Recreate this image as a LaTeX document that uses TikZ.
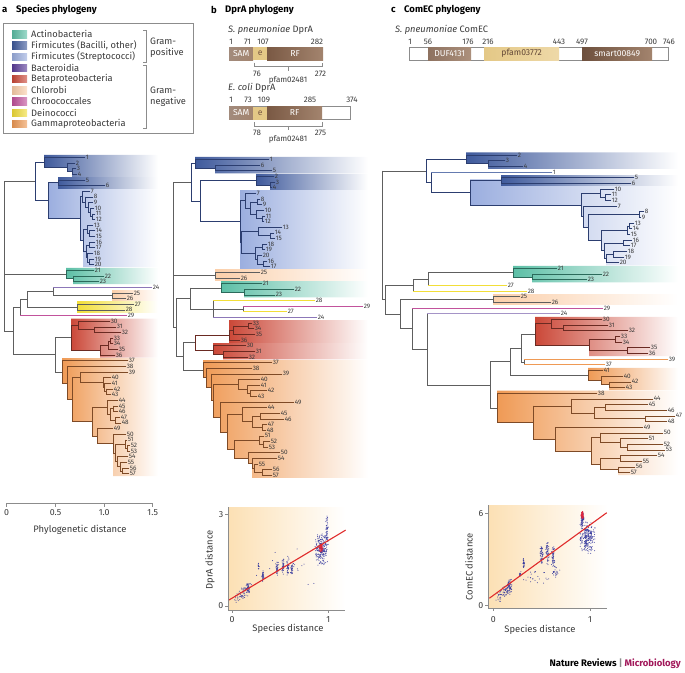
\documentclass[tikz,border=0pt]{standalone}
\usepackage{fontspec}
\setmainfont{Fira Sans}
\definecolor{cActino}{HTML}{5CBFA6}
\definecolor{cBac}{HTML}{3F5A9C}
\definecolor{cStrep}{HTML}{9BAEDF}
\definecolor{cBact}{HTML}{5B3D9A}
\definecolor{cBeta}{HTML}{CB4838}
\definecolor{cChlo}{HTML}{FBCFAA}
\definecolor{cChroo}{HTML}{C2529C}
\definecolor{cDein}{HTML}{F2DE38}
\definecolor{cGamma}{HTML}{EF9A55}
\definecolor{bGrey}{HTML}{5E5E5E}
\definecolor{bBlue}{HTML}{2C3E70}
\definecolor{bTeal}{HTML}{2B6A5B}
\definecolor{bRed}{HTML}{6A2A22}
\definecolor{bOrange}{HTML}{7E4A26}
\definecolor{txtc}{HTML}{3A3A3A}
\definecolor{axc}{HTML}{8C8C8C}
\definecolor{brA}{HTML}{7A5944}
\definecolor{brB}{HTML}{A3846E}
\definecolor{tanA}{HTML}{E4C886}
\definecolor{tanB}{HTML}{EED9A8}
\definecolor{bgP}{HTML}{FCE0B4}
\definecolor{dotb}{HTML}{3A3DA0}
\definecolor{dotr}{HTML}{E0243A}
\definecolor{redl}{HTML}{E02B2B}
\definecolor{natmag}{HTML}{A1185A}
\colorlet{bc}{bGrey}
\tikzset{
  brl/.style={draw=bc, line width=0.6pt, line cap=rect},
  lab/.style={anchor=west, inner sep=0.5pt, font=\fontsize{6.4}{6.4}\selectfont, text=txtc},
  ttl/.style={anchor=west, inner sep=0pt, font=\fontsize{9.5}{10}\selectfont\bfseries, text=black},
  leg/.style={anchor=west, inner sep=0pt, font=\fontsize{9.3}{10.6}\selectfont, text=txtc},
  num/.style={inner sep=0pt, font=\fontsize{8}{8}\selectfont, text=txtc},
  dtxt/.style={anchor=west, inner sep=0pt, font=\fontsize{9.3}{10}\selectfont, text=txtc},
  dombar/.style={anchor=west, minimum height=13pt, inner sep=0pt, text=white, font=\fontsize{8.6}{8.6}\selectfont},
  brk/.style={draw=axc, line width=0.5pt},
  axl/.style={draw=axc, line width=0.6pt},
  tick/.style={inner sep=0pt, font=\fontsize{8.8}{9}\selectfont, text=txtc},
  axtitle/.style={inner sep=0pt, font=\fontsize{9.4}{10}\selectfont, text=txtc},
  redline/.style={draw=redl, line width=1.1pt}
}
\newcommand\brV[3]{\draw[brl] (#1,#2) -- (#1,#3);}
\newcommand\brH[3]{\draw[brl] (#1,#3) -- (#2,#3);}
\newcommand\brL[4]{\draw[brl] (#1,#3) -- (#2,#3) node[lab] (\tp#4) {#4};}
\newcommand\brLc[5]{\draw[brl,draw=#1] (#2,#4) -- (#3,#4) node[lab] (\tp#5) {#5};}
\newcommand\cloud[7]{%
  \foreach \i in {1,...,#1}{%
    \pgfmathsetmacro\px{#2+#3*(rand+rand)/2}%
    \pgfmathsetmacro\py{#4+#6*(\px-#2)+#5*(rand+rand)/2}%
    \fill[#7] (\px,\py) circle (0.5pt);
  }}
\begin{document}
\begin{tikzpicture}[x=1pt,y=-1pt]
\useasboundingbox (0,0) rectangle (685,672);
\pgfmathsetseed{11}

% ---------------- titles
\node[ttl] (ta) at (2,10) {a};
\node[ttl] (tat) at (16,10) {Species phylogeny};
\node[ttl] (tb) at (211,10) {b};
\node[ttl] (tbt) at (225,10) {DprA phylogeny};
\node[ttl] (tc) at (391,10) {c};
\node[ttl] (tct) at (404,10) {ComEC phylogeny};

% ---------------- legend
\draw[draw=axc, line width=0.6pt] (3,23) rectangle (193,133);
\foreach \c/\t [count=\i] in {cActino/Actinobacteria, cBac/{Firmicutes (Bacilli, other)}, cStrep/{Firmicutes (Streptococci)}, cBact/Bacteroidia, cBeta/Betaproteobacteria, cChlo/Chlorobi, cChroo/Chroococcales, cDein/Deinococci, cGamma/Gammaproteobacteria}{
  \pgfmathsetmacro\yy{34.3+(\i-1)*11.2}
  \shade[left color=\c!90!black, right color=\c!60!white] (12,\yy-3.7) rectangle (27,\yy+3.7);
  \node[leg] (leg\i) at (31,\yy) {\t};
}
\draw[brk] (143,30) -- (146,30) -- (146,62) -- (143,62);
\draw[brk] (143,65) -- (146,65) -- (146,128) -- (143,128);
\node[leg, align=left] (gpos) at (150,48) {Gram-\\positive};
\node[leg, align=left] (gneg) at (150,96.5) {Gram-\\negative};

% ---------------- DprA domains
\node[dtxt] (spd) at (228,30) {\textit{S. pneumoniae} DprA};
\node[num] (n1a) at (231,42) {1};
\node[num] (n71) at (247.5,42) {71};
\node[num] (n107) at (263,42) {107};
\node[num] (n282) at (317,42) {282};
\node[dombar, minimum width=24pt, left color=brA!70!white, right color=brB] (spSAM) at (229,53.5) {SAM};
\node[dombar, minimum width=14pt, fill=tanA, text=brA] (spE) at (253,53.5) {e};
\node[dombar, minimum width=56pt, left color=brA, right color=brB] (spRF) at (267,53.5) {RF};
\draw[brk] (254,62.7) -- (254,66.5) -- (322,66.5) -- (322,62.7);
\draw[brk] (288,66.5) -- (288,71);
\node[num] (n76) at (257,73.5) {76};
\node[num] (n272) at (320.5,73.5) {272};
\node[num] (pf1) at (288,80.5) {pfam02481};

\node[dtxt] (ecd) at (228,88.3) {\textit{E. coli} DprA};
\node[num] (m1) at (231,100) {1};
\node[num] (m73) at (248,100) {73};
\node[num] (m109) at (264,100) {109};
\node[num] (m285) at (310,100) {285};
\node[num] (m374) at (352,100) {374};
\node[dombar, minimum width=121pt, draw=axc, line width=0.5pt, fill=white] (ecAll) at (229,113) {};
\node[dombar, minimum width=24pt, left color=brA!70!white, right color=brB] (ecSAM) at (229,113) {SAM};
\node[dombar, minimum width=14pt, fill=tanA, text=brA] (ecE) at (253,113) {e};
\node[dombar, minimum width=55pt, left color=brA, right color=brB] (ecRF) at (267,113) {RF};
\draw[brk] (254,122) -- (254,125.8) -- (322,125.8) -- (322,122);
\draw[brk] (288,125.8) -- (288,130.3);
\node[num] (m78) at (257,132.5) {78};
\node[num] (m275) at (320.5,132.5) {275};
\node[num] (pf2) at (288,139.5) {pfam02481};

% ---------------- ComEC domains
\node[dtxt] (spc) at (395,30) {\textit{S. pneumoniae} ComEC};
\foreach \v/\xx in {1/410,56/428,176/468,216/488,443/559,497/582,700/651,746/669}{
  \node[num] (k\v) at (\xx,42) {\v};
}
\node[dombar, minimum width=259pt, draw=axc, line width=0.5pt, fill=white] (ceAll) at (409,53.5) {};
\node[dombar, minimum width=43pt, left color=brA!85!white, right color=brB!90!white] (ceDUF) at (428,53.5) {DUF4131};
\node[dombar, minimum width=75pt, left color=tanA, right color=tanB, text=brA!80!black] (cePF) at (484,53.5) {pfam03772};
\node[dombar, minimum width=70pt, left color=brA!90!black, right color=brB] (ceSM) at (582,53.5) {smart00849};

% ================= TREE A
\begin{scope}[yshift=-151.65pt, y=-5.65pt]
\def\tp{a}
\shade[left color=cStrep, right color=white] (48,5.5) -- (158,5.5) -- (158,20.45) -- (83,20.45) -- (83,15.69) -- (80,15.69) -- (80,11.83) -- (48,11.83) -- cycle;
\shade[left color=cBac, right color=white] (44,0.55) -- (158,0.55) -- (158,4.45) -- (72,4.45) -- (72,3.5) -- (67,3.5) -- (67,2.75) -- (44,2.75) -- cycle;
\shade[left color=cBac, right color=white] (58,4.55) rectangle (158,6.45);
\shade[left color=cActino, right color=white] (66,20.55) -- (158,20.55) -- (158,23.45) -- (73,23.45) -- (73,22.5) -- (66,22.5) -- cycle;
\shade[left color=cChlo, right color=white] (112,24.6) rectangle (158,26.4);
\shade[left color=cDein, right color=white] (77,26.6) rectangle (158,28.4);
\shade[left color=cBeta, right color=white] (71,29.55) -- (158,29.55) -- (158,36.45) -- (100,36.45) -- (100,35.125) -- (71,35.125) -- cycle;
\shade[left color=cGamma, right color=white] (62,36.55) -- (158,36.55) -- (158,57.45) -- (113,57.45) -- (113,51.66) -- (97,51.66) -- (97,50.33) -- (92,50.33) -- (92,47.79) -- (72,47.79) -- (72,43.87) -- (67,43.87) -- (67,40.93) -- (62,40.93) -- cycle;
% basal
\brV{4}{5.27}{31.76}
\brH{4}{35}{5.27}
\brH{4}{66}{21.75}
\brH{4}{13}{31.76}
\brV{13}{27.56}{35.95}
\brH{13}{20}{27.56}
\brH{13}{55}{35.95}
\brV{20}{26.125}{29}
\brH{20}{27}{26.125}
\brLc{cChroo}{20}{127}{29}{29}
\brV{27}{24.75}{27.5}
\brH{27}{53}{24.75}
\brH{27}{77}{27.5}
\brV{53}{24}{25.5}
\brLc{cBact!70!white}{53}{152}{24}{24}
\brH{53}{112}{25.5}
\brV{112}{25}{26}
\brL{112}{133}{25}{25}
\brL{112}{126}{26}{26}
\brV{77}{27}{28}
\brL{77}{134}{27}{27}
\brL{77}{125}{28}{28}
\brV{55}{32.94}{38.97}
\brH{55}{71}{32.94}
\brH{55}{62}{38.97}
\begin{scope}\colorlet{bc}{bBlue}
\brV{35}{1.875}{8.66}
\brH{35}{44}{1.875}
\brH{35}{48}{8.66}
\brV{44}{1}{2.75}
\brL{44}{85}{1}{1}
\brH{44}{67}{2.75}
\brV{67}{2}{3.5}
\brL{67}{75}{2}{2}
\brH{67}{72}{3.5}
\brV{72}{3}{4}
\brL{72}{76}{3}{3}
\brL{72}{77}{4}{4}
\brV{48}{5.5}{11.83}
\brH{48}{58}{5.5}
\brH{48}{80}{11.83}
\brV{58}{5}{6}
\brL{58}{85}{5}{5}
\brL{58}{105}{6}{6}
\brV{80}{7.97}{15.69}
\brH{80}{82}{7.97}
\brH{80}{83}{15.69}
\brV{82}{7}{8.94}
\brL{82}{90}{7}{7}
\brH{82}{85}{8.94}
\brV{85}{8}{9.875}
\brL{85}{93}{8}{8}
\brH{85}{88}{9.875}
\brV{88}{9}{10.75}
\brL{88}{93}{9}{9}
\brH{88}{90}{10.75}
\brV{90}{10}{11.5}
\brL{90}{94}{10}{10}
\brH{90}{92}{11.5}
\brV{92}{11}{12}
\brL{92}{95}{11}{11}
\brL{92}{95}{12}{12}
\brV{83}{13.75}{17.625}
\brH{83}{87}{13.75}
\brH{83}{86}{17.625}
\brV{87}{13}{14.5}
\brL{87}{93}{13}{13}
\brH{87}{89}{14.5}
\brV{89}{14}{15}
\brL{89}{95}{14}{14}
\brL{89}{95}{15}{15}
\brV{86}{16.5}{18.75}
\brH{86}{89}{16.5}
\brH{86}{87}{18.75}
\brV{89}{16}{17}
\brL{89}{95}{16}{16}
\brL{89}{95}{17}{17}
\brV{87}{18}{19.5}
\brL{87}{93}{18}{18}
\brH{87}{89}{19.5}
\brV{89}{19}{20}
\brL{89}{94}{19}{19}
\brL{89}{94}{20}{20}
\end{scope}
\begin{scope}\colorlet{bc}{bTeal}
\brV{66}{21}{22.5}
\brL{66}{94}{21}{21}
\brH{66}{73}{22.5}
\brV{73}{22}{23}
\brL{73}{104}{22}{22}
\brL{73}{99}{23}{23}
\end{scope}
\begin{scope}\colorlet{bc}{bRed}
\brV{71}{30.75}{35.125}
\brH{71}{78}{30.75}
\brH{71}{100}{35.125}
\brV{78}{30}{31.5}
\brL{78}{110}{30}{30}
\brH{78}{94}{31.5}
\brV{94}{31}{32}
\brL{94}{116}{31}{31}
\brL{94}{121}{32}{32}
\brV{100}{34.25}{36}
\brH{100}{108}{34.25}
\brL{100}{115}{36}{36}
\brV{108}{33.5}{35}
\brH{108}{110}{33.5}
\brL{108}{118}{35}{35}
\brV{110}{33}{34}
\brL{110}{113}{33}{33}
\brL{110}{113}{34}{34}
\end{scope}
\begin{scope}\colorlet{bc}{bOrange}
\brV{62}{37}{40.93}
\brL{62}{128}{37}{37}
\brH{62}{67}{40.93}
\brV{67}{38}{43.87}
\brL{67}{126}{38}{38}
\brH{67}{72}{43.87}
\brV{72}{39.94}{47.79}
\brH{72}{80}{39.94}
\brH{72}{92}{47.79}
\brV{80}{39}{40.875}
\brL{80}{128}{39}{39}
\brH{80}{103}{40.875}
\brV{103}{40}{41.75}
\brL{103}{111}{40}{40}
\brH{103}{104}{41.75}
\brV{104}{41}{42.5}
\brL{104}{111}{41}{41}
\brH{104}{106}{42.5}
\brV{106}{42}{43}
\brL{106}{113}{42}{42}
\brL{106}{111}{43}{43}
\brV{92}{45.25}{50.33}
\brH{92}{107}{45.25}
\brH{92}{97}{50.33}
\brV{107}{44}{46.5}
\brL{107}{118}{44}{44}
\brH{107}{110}{46.5}
\brV{110}{45.5}{47.5}
\brH{110}{113}{45.5}
\brH{110}{115}{47.5}
\brV{113}{45}{46}
\brL{113}{118}{45}{45}
\brL{113}{118}{46}{46}
\brV{115}{47}{48}
\brL{115}{120}{47}{47}
\brL{115}{121}{48}{48}
\brV{97}{49}{51.66}
\brL{97}{113}{49}{49}
\brH{97}{113}{51.66}
\brV{113}{50}{53.31}
\brL{113}{126}{50}{50}
\brH{113}{115}{53.31}
\brV{115}{51.75}{54.875}
\brH{115}{125}{51.75}
\brH{115}{117}{54.875}
\brV{125}{51}{52.5}
\brL{125}{127}{51}{51}
\brH{125}{127}{52.5}
\brV{127}{52}{53}
\brL{127}{130}{52}{52}
\brL{127}{130}{53}{53}
\brV{117}{54}{55.75}
\brL{117}{128}{54}{54}
\brH{117}{120}{55.75}
\brV{120}{55}{56.5}
\brL{120}{127}{55}{55}
\brH{120}{122}{56.5}
\brV{122}{56}{57}
\brL{122}{129}{56}{56}
\brL{122}{129}{57}{57}
\end{scope}
\end{scope}

% scale bar tree a
\draw[axl] (6.7,506.5) -- (6.7,503.3) -- (152.7,503.3) -- (152.7,506.5);
\draw[axl] (55.5,503.3) -- (55.5,506.5);
\draw[axl] (104.2,503.3) -- (104.2,506.5);
\node[tick] (s0) at (6.7,513) {0};
\node[tick] (s05) at (55.5,513) {0.5};
\node[tick] (s10) at (104.2,513) {1.0};
\node[tick] (s15) at (152.7,513) {1.5};
\node[axtitle] (phyl) at (80,529.5) {Phylogenetic distance};

% ================= TREE B
\begin{scope}[yshift=-153.86pt, y=-5.64pt]
\def\tp{b}
\shade[left color=cBac, right color=white] (195,0.55) -- (368,0.55) -- (368,3.45) -- (215,3.45) -- (215,2.5) -- (195,2.5) -- cycle;
\shade[left color=cBac, right color=white] (256,3.55) -- (368,3.55) -- (368,6.45) -- (270,6.45) -- (270,5.5) -- (256,5.5) -- cycle;
\shade[left color=cStrep, right color=white] (240,6.55) rectangle (368,20.45);
\shade[left color=cChlo, right color=white] (215,20.55) rectangle (368,22.45);
\shade[left color=cActino, right color=white] (221,22.55) -- (368,22.55) -- (368,25.45) -- (244,25.45) -- (244,24.5) -- (221,24.5) -- cycle;
\shade[left color=cBeta, right color=white] (229,29.55) rectangle (368,33.45);
\shade[left color=cBeta, right color=white] (213,33.55) -- (368,33.55) -- (368,36.45) -- (223,36.45) -- (223,35.5) -- (213,35.5) -- cycle;
\shade[left color=cGamma, right color=white] (203,36.55) -- (203,39.69) -- (206,39.69) -- (206,41.38) -- (211,41.38) -- (211,43.76) -- (213,43.76) -- (213,46.65) -- (220,46.65) -- (220,49.3) -- (227,49.3) -- (227,52.34) -- (234,52.34) -- (234,53.94) -- (248,53.94) -- (248,54.875) -- (252,54.875) -- (252,57.45) -- (368,57.45) -- (368,36.55) -- cycle;
% basal
\brV{173}{5.06}{30.74}
\brH{173}{191}{5.06}
\brH{173}{215}{21.5}
\brH{173}{176}{30.74}
\brV{215}{21}{22}
\brL{215}{260}{21}{25}
\brL{215}{240}{22}{26}
\brV{176}{25.6}{35.87}
\brH{176}{190}{25.6}
\brH{176}{183}{35.87}
\brV{190}{23.75}{27.5}
\brH{190}{221}{23.75}
\brH{190}{213}{27.5}
\brV{213}{26}{29}
\brLc{cDein}{213}{315}{26}{28}
\brH{213}{243}{27.5}
\brLc{cBact!70!white}{213}{317}{29}{24}
\brV{243}{27}{28}
\brLc{cChroo}{243}{363}{27}{29}
\brLc{cDein}{243}{287}{28}{27}
\brV{183}{33.44}{38.35}
\brH{183}{195}{33.44}
\brH{183}{203}{38.35}
\begin{scope}\colorlet{bc}{bBlue}
\brV{191}{1.75}{8.375}
\brH{191}{195}{1.75}
\brH{191}{200}{8.375}
\brV{195}{1}{2.5}
\brL{195}{269}{1}{1}
\brH{195}{215}{2.5}
\brV{215}{2}{3}
\brL{215}{260}{2}{6}
\brL{215}{272}{3}{5}
\brV{200}{4.75}{12}
\brH{200}{256}{4.75}
\brH{200}{240}{12}
\brV{256}{4}{5.5}
\brL{256}{274}{4}{2}
\brH{256}{270}{5.5}
\brV{270}{5}{6}
\brL{270}{275}{5}{3}
\brL{270}{272}{6}{4}
\brV{240}{8.31}{15.69}
\brH{240}{245}{8.31}
\brH{240}{241}{15.69}
\brV{245}{7}{9.625}
\brL{245}{256}{7}{7}
\brH{245}{250}{9.625}
\brV{250}{8.5}{10.75}
\brH{250}{257}{8.5}
\brH{250}{256}{10.75}
\brV{257}{8}{9}
\brL{257}{260}{8}{8}
\brL{257}{262}{9}{9}
\brV{256}{10}{11.5}
\brL{256}{264}{10}{10}
\brH{256}{262}{11.5}
\brV{262}{11}{12}
\brL{262}{265}{11}{11}
\brL{262}{264}{12}{12}
\brV{241}{13.75}{17.625}
\brH{241}{258}{13.75}
\brH{241}{255}{17.625}
\brV{258}{13}{14.5}
\brL{258}{282}{13}{13}
\brH{258}{270}{14.5}
\brV{270}{14}{15}
\brL{270}{274}{14}{14}
\brL{270}{275}{15}{15}
\brV{255}{16.5}{18.75}
\brH{255}{262}{16.5}
\brH{255}{257}{18.75}
\brV{262}{16}{17}
\brL{262}{267}{16}{18}
\brL{262}{265}{17}{19}
\brV{257}{18}{19.5}
\brL{257}{262}{18}{20}
\brH{257}{263}{19.5}
\brV{263}{19}{20}
\brL{263}{267}{19}{16}
\brL{263}{270}{20}{17}
\end{scope}
\begin{scope}\colorlet{bc}{bTeal}
\brV{221}{23}{24.5}
\brL{221}{262}{23}{21}
\brH{221}{244}{24.5}
\brV{244}{24}{25}
\brL{244}{294}{24}{22}
\brL{244}{275}{25}{23}
\end{scope}
\begin{scope}\colorlet{bc}{bRed}
\brV{195}{32.125}{34.75}
\brH{195}{229}{32.125}
\brH{195}{213}{34.75}
\brV{229}{31.25}{33}
\brH{229}{233}{31.25}
\brL{229}{240}{33}{36}
\brV{233}{30.5}{32}
\brH{233}{248}{30.5}
\brL{233}{255}{32}{35}
\brV{248}{30}{31}
\brL{248}{252}{30}{33}
\brL{248}{254}{31}{34}
\brV{213}{34}{35.5}
\brL{213}{246}{34}{30}
\brH{213}{223}{35.5}
\brV{223}{35}{36}
\brL{223}{255}{35}{31}
\brL{223}{248}{36}{32}
\end{scope}
\begin{scope}\colorlet{bc}{bOrange}
\brV{203}{37}{39.69}
\brL{203}{272}{37}{37}
\brH{203}{206}{39.69}
\brV{206}{38}{41.38}
\brL{206}{252}{38}{38}
\brH{206}{211}{41.38}
\brV{211}{39}{43.76}
\brL{211}{282}{39}{39}
\brH{211}{213}{43.76}
\brV{213}{40.875}{46.65}
\brH{213}{238}{40.875}
\brH{213}{220}{46.65}
\brV{238}{40}{41.75}
\brL{238}{260}{40}{40}
\brH{238}{247}{41.75}
\brV{247}{41}{42.5}
\brL{247}{260}{41}{41}
\brH{247}{250}{42.5}
\brV{250}{42}{43}
\brL{250}{267}{42}{42}
\brL{250}{257}{43}{43}
\brV{220}{44}{49.3}
\brL{220}{294}{44}{49}
\brH{220}{227}{49.3}
\brV{227}{46.25}{52.34}
\brH{227}{242}{46.25}
\brH{227}{234}{52.34}
\brV{242}{45}{47.5}
\brL{242}{267}{45}{44}
\brH{242}{252}{47.5}
\brV{252}{46.5}{48.5}
\brH{252}{260}{46.5}
\brH{252}{262}{48.5}
\brV{260}{46}{47}
\brL{260}{280}{46}{45}
\brL{260}{284}{47}{46}
\brV{262}{48}{49}
\brL{262}{267}{48}{47}
\brL{262}{266}{49}{48}
\brV{234}{50.75}{53.94}
\brH{234}{259}{50.75}
\brH{234}{248}{53.94}
\brV{259}{50}{51.5}
\brL{259}{264}{50}{51}
\brH{259}{263}{51.5}
\brV{263}{51}{52}
\brL{263}{270}{51}{52}
\brL{263}{268}{52}{53}
\brV{248}{53}{54.875}
\brL{248}{280}{53}{50}
\brH{248}{252}{54.875}
\brV{252}{54}{55.75}
\brL{252}{277}{54}{54}
\brH{252}{254}{55.75}
\brV{254}{55}{56.5}
\brL{254}{258}{55}{55}
\brH{254}{262}{56.5}
\brV{262}{56}{57}
\brL{262}{272}{56}{56}
\brL{262}{272}{57}{57}
\end{scope}
\end{scope}

% ================= TREE C
\begin{scope}[yshift=-149.33pt, y=-5.67pt]
\def\tp{c}
\shade[left color=cBac, right color=white] (466,0.55) -- (678,0.55) -- (678,3.45) -- (488,3.45) -- (488,2.5) -- (466,2.5) -- cycle;
\shade[left color=cStrep, right color=white] (470,5.3) -- (678,5.3) -- (678,20.45) -- (606,20.45) -- (606,19.25) -- (604,19.25) -- (604,17.875) -- (601,17.875) -- (601,16.06) -- (588,16.06) -- (588,13.78) -- (583,13.78) -- (583,11.89) -- (581,11.89) -- (581,9.82) -- (470,9.82) -- cycle;
\shade[left color=cBac, right color=white] (501,4.55) rectangle (678,6.45);
\shade[left color=cActino, right color=white] (513,20.55) -- (678,20.55) -- (678,23.45) -- (532,23.45) -- (532,22.5) -- (513,22.5) -- cycle;
\shade[left color=cChlo, right color=white] (493,25.55) rectangle (678,27.45);
\shade[left color=cBeta, right color=white] (535,29.55) -- (678,29.55) -- (678,36.45) -- (589,36.45) -- (589,34.5) -- (535,34.5) -- cycle;
\shade[left color=cGamma, right color=white] (588,38.55) -- (588,40.75) -- (601,40.75) -- (601,41.5) -- (609,41.5) -- (609,42.45) -- (678,42.45) -- (678,38.55) -- cycle;
\shade[left color=cGamma, right color=white] (497,42.55) -- (497,48.17) -- (533,48.17) -- (533,51.09) -- (555,51.09) -- (555,53.19) -- (591,53.19) -- (591,55.5) -- (600,55.5) -- (600,56.5) -- (618,56.5) -- (618,57.45) -- (678,57.45) -- (678,42.55) -- cycle;
% basal
\brV{382.7}{3.79}{26.5}
\brH{382.7}{426.7}{3.79}
\brH{382.7}{385}{26.5}
\brV{385}{23.94}{29.07}
\brH{385}{413}{23.94}
\brH{385}{400}{29.07}
\brV{413}{22.875}{25}
\brH{413}{428}{22.875}
\brLc{cDein}{413}{527}{25}{28}
\brV{428}{21.75}{24}
\brH{428}{513}{21.75}
\brLc{cDein}{428}{507}{24}{27}
\brV{400}{26.5}{31.63}
\brH{400}{493}{26.5}
\brH{400}{412.7}{31.63}
\brV{493}{26}{27}
\brL{493}{520}{26}{25}
\brL{493}{551}{27}{26}
\brV{412.7}{28}{35.26}
\brLc{cChroo}{412.7}{603}{28}{29}
\brH{412.7}{427}{35.26}
\brV{427}{29}{41.53}
\brLc{cBact!55!white}{427}{560}{29}{24}
\brH{427}{490}{41.53}
\brV{490}{37.47}{45.59}
\brH{490}{510}{37.47}
\brH{490}{497}{45.59}
\brV{510}{35.06}{39.875}
\brH{510}{521.7}{35.06}
\brH{510}{588}{39.875}
\brV{521.7}{32.63}{37.5}
\brH{521.7}{535}{32.63}
\brH{521.7}{524}{37.5}
\brV{524}{37}{38}
\brLc{cGamma}{524}{668}{37}{39}
\brLc{cGamma}{524}{605}{38}{37}
\begin{scope}\colorlet{bc}{bBlue}
\brV{426.7}{1.75}{5.83}
\brH{426.7}{466}{1.75}
\brH{426.7}{431.7}{5.83}
\brV{466}{1}{2.5}
\brL{466}{517}{1}{2}
\brH{466}{488}{2.5}
\brV{488}{2}{3}
\brL{488}{505}{2}{3}
\brL{488}{523}{3}{4}
\brV{431.7}{4}{7.66}
\brLc{cBac!80!white}{431.7}{552}{4}{1}
\brH{431.7}{470}{7.66}
\brV{470}{5.5}{9.82}
\brH{470}{501}{5.5}
\brH{470}{581}{9.82}
\brV{501}{5}{6}
\brL{501}{634}{5}{5}
\brL{501}{631}{6}{6}
\brV{581}{7.75}{11.89}
\brH{581}{600}{7.75}
\brH{581}{583}{11.89}
\brV{600}{7}{8.5}
\brL{600}{614}{7}{10}
\brH{600}{605}{8.5}
\brV{605}{8}{9}
\brL{605}{611}{8}{11}
\brL{605}{611}{9}{12}
\brV{583}{10}{13.78}
\brL{583}{617}{10}{7}
\brH{583}{588}{13.78}
\brV{588}{11.5}{16.06}
\brH{588}{639}{11.5}
\brH{588}{601}{16.06}
\brV{639}{11}{12}
\brL{639}{644}{11}{8}
\brL{639}{641}{12}{9}
\brV{601}{14.25}{17.875}
\brH{601}{627}{14.25}
\brH{601}{604}{17.875}
\brV{627}{13.5}{15}
\brH{627}{629}{13.5}
\brL{627}{630}{15}{15}
\brV{629}{13}{14}
\brL{629}{634}{13}{13}
\brL{629}{632}{14}{14}
\brV{604}{16.5}{19.25}
\brH{604}{623}{16.5}
\brH{604}{606}{19.25}
\brV{623}{16}{17}
\brL{623}{632}{16}{16}
\brL{623}{630}{17}{17}
\brV{606}{18.5}{20}
\brH{606}{613}{18.5}
\brL{606}{619}{20}{20}
\brV{613}{18}{19}
\brL{613}{627}{18}{18}
\brL{613}{624}{19}{19}
\end{scope}
\begin{scope}\colorlet{bc}{bTeal}
\brV{513}{21}{22.5}
\brL{513}{557}{21}{21}
\brH{513}{532}{22.5}
\brV{532}{22}{23}
\brL{532}{602}{22}{22}
\brL{532}{587}{23}{23}
\end{scope}
\begin{scope}\colorlet{bc}{bRed}
\brV{535}{30.75}{34.5}
\brH{535}{551.7}{30.75}
\brH{535}{589}{34.5}
\brV{551.7}{30}{31.5}
\brL{551.7}{602}{30}{30}
\brH{551.7}{563}{31.5}
\brV{563}{31}{32}
\brL{563}{608}{31}{31}
\brL{563}{628}{32}{32}
\brV{589}{33.5}{35.5}
\brH{589}{615}{33.5}
\brH{589}{627}{35.5}
\brV{615}{33}{34}
\brL{615}{620}{33}{33}
\brL{615}{622}{34}{34}
\brV{627}{35}{36}
\brL{627}{650}{35}{35}
\brL{627}{648}{36}{36}
\end{scope}
\begin{scope}\colorlet{bc}{bOrange}
\brV{588}{39}{40.75}
\brL{588}{603}{39}{41}
\brH{588}{601}{40.75}
\brV{601}{40}{41.5}
\brL{601}{623}{40}{40}
\brH{601}{609}{41.5}
\brV{609}{41}{42}
\brL{609}{631}{41}{42}
\brL{609}{625}{42}{43}
\brV{497}{43}{48.17}
\brL{497}{597}{43}{38}
\brH{497}{533}{48.17}
\brV{533}{45.25}{51.09}
\brH{533}{571}{45.25}
\brH{533}{555}{51.09}
\brV{571}{44}{46.5}
\brL{571}{653}{44}{44}
\brH{571}{594}{46.5}
\brV{594}{45.5}{47.5}
\brH{594}{605}{45.5}
\brH{594}{645}{47.5}
\brV{605}{45}{46}
\brL{605}{648}{45}{45}
\brL{605}{667}{46}{46}
\brV{645}{47}{48}
\brL{645}{675}{47}{47}
\brL{645}{667}{48}{48}
\brV{555}{49}{53.19}
\brL{555}{643}{49}{49}
\brH{555}{591}{53.19}
\brV{591}{50.875}{55.5}
\brH{591}{600}{50.875}
\brH{591}{600}{55.5}
\brV{600}{50}{51.75}
\brL{600}{663}{50}{50}
\brH{600}{620}{51.75}
\brV{620}{51}{52.5}
\brL{620}{648}{51}{51}
\brH{620}{627}{52.5}
\brV{627}{52}{53}
\brL{627}{663}{52}{52}
\brL{627}{665}{53}{53}
\brV{600}{54.5}{56.5}
\brH{600}{620}{54.5}
\brH{600}{618}{56.5}
\brV{620}{54}{55}
\brL{620}{657}{54}{54}
\brL{620}{642}{55}{55}
\brV{618}{56}{57}
\brL{618}{635}{56}{56}
\brL{618}{630}{57}{57}
\end{scope}
\end{scope}

% ================= scatter b
\shade[left color=bgP, right color=white] (228,507) rectangle (345,610);
\begin{scope}[shift={(232,606)}, x=96.3pt, y=30.6pt]
\cloud{70}{0.11}{0.1}{0.4}{0.25}{2.5}{dotb}
\cloud{40}{0.17}{0.02}{0.6}{0.2}{0}{dotb}
\cloud{30}{0.32}{0.012}{1.0}{0.22}{0}{dotb}
\cloud{12}{0.275}{0.01}{1.3}{0.12}{0}{dotb}
\cloud{35}{0.47}{0.015}{1.25}{0.3}{0}{dotb}
\cloud{35}{0.53}{0.015}{1.35}{0.35}{0}{dotb}
\cloud{35}{0.58}{0.015}{1.3}{0.35}{0}{dotb}
\cloud{30}{0.62}{0.015}{1.2}{0.25}{0}{dotb}
\cloud{220}{0.93}{0.07}{1.85}{0.55}{0}{dotb}
\cloud{50}{0.985}{0.015}{2.45}{0.55}{0}{dotb}
\cloud{20}{0.6}{0.4}{1.2}{0.9}{0}{dotb}
\cloud{60}{0.925}{0.025}{1.9}{0.2}{0}{dotr}
\coordinate (rb1) at (-0.04,0.18);
\coordinate (rb2) at (1.18,2.48);
\draw[redline] (rb1) -- (rb2);
\end{scope}
\draw[axl] (228,507) -- (228,610) -- (345,610);
\draw[axl] (225,514.3) -- (228,514.3);
\draw[axl] (225,606) -- (228,606);
\draw[axl] (232,610) -- (232,613);
\draw[axl] (328.3,610) -- (328.3,613);
\node[tick, anchor=east] (by3) at (223.5,514.3) {3};
\node[tick, anchor=east] (by0) at (223.5,606) {0};
\node[tick] (bx0) at (232,619.5) {0};
\node[tick] (bx1) at (328.3,619.5) {1};
\node[axtitle] (bxt) at (288,629) {Species distance};
\node[axtitle, rotate=90] (byt) at (210,560) {DprA distance};

% ================= scatter c
\shade[left color=bgP, right color=white] (488,505) rectangle (607,608.3);
\begin{scope}[shift={(493.3,605.3)}, x=96.7pt, y=15.33pt]
\cloud{75}{0.11}{0.1}{0.9}{0.5}{6}{dotb}
\cloud{45}{0.17}{0.025}{1.2}{0.6}{0}{dotb}
\cloud{30}{0.315}{0.012}{2.75}{0.35}{0}{dotb}
\cloud{12}{0.28}{0.012}{2.0}{0.25}{0}{dotb}
\cloud{50}{0.5}{0.02}{3.3}{0.7}{0}{dotb}
\cloud{50}{0.56}{0.02}{3.4}{0.8}{0}{dotb}
\cloud{50}{0.62}{0.02}{3.2}{0.8}{0}{dotb}
\cloud{20}{0.65}{0.05}{2.2}{0.4}{0}{dotb}
\cloud{25}{0.45}{0.25}{1.8}{0.6}{0}{dotb}
\cloud{230}{0.97}{0.09}{4.4}{1.1}{0}{dotb}
\cloud{70}{0.92}{0.02}{5.6}{0.5}{0}{dotb}
\cloud{60}{0.92}{0.015}{5.85}{0.3}{0}{dotr}
\coordinate (rc1) at (-0.041,0.46);
\coordinate (rc2) at (1.173,6.04);
\draw[redline] (rc1) -- (rc2);
\end{scope}
\draw[axl] (488.3,505) -- (488.3,608.3) -- (607,608.3);
\draw[axl] (485.3,513.3) -- (488.3,513.3);
\draw[axl] (485.3,605.3) -- (488.3,605.3);
\draw[axl] (493.3,608.3) -- (493.3,611.3);
\draw[axl] (590,608.3) -- (590,611.3);
\node[tick, anchor=east] (cy6) at (483.5,513.3) {6};
\node[tick, anchor=east] (cy0) at (483.5,605.3) {0};
\node[tick] (cx0) at (493.3,619.5) {0};
\node[tick] (cx1) at (590,619.5) {1};
\node[axtitle] (cxt) at (540,630) {Species distance};
\node[axtitle, rotate=90] (cyt) at (469,566.7) {ComEC distance};

% footer
\node[anchor=east, inner sep=0pt, font=\fontsize{9.5}{10}\selectfont\bfseries] (footer) at (681,663.3) {Nature Reviews \textcolor{axc}{|} \textcolor{natmag}{Microbiology}};
\end{tikzpicture}
\end{document}
